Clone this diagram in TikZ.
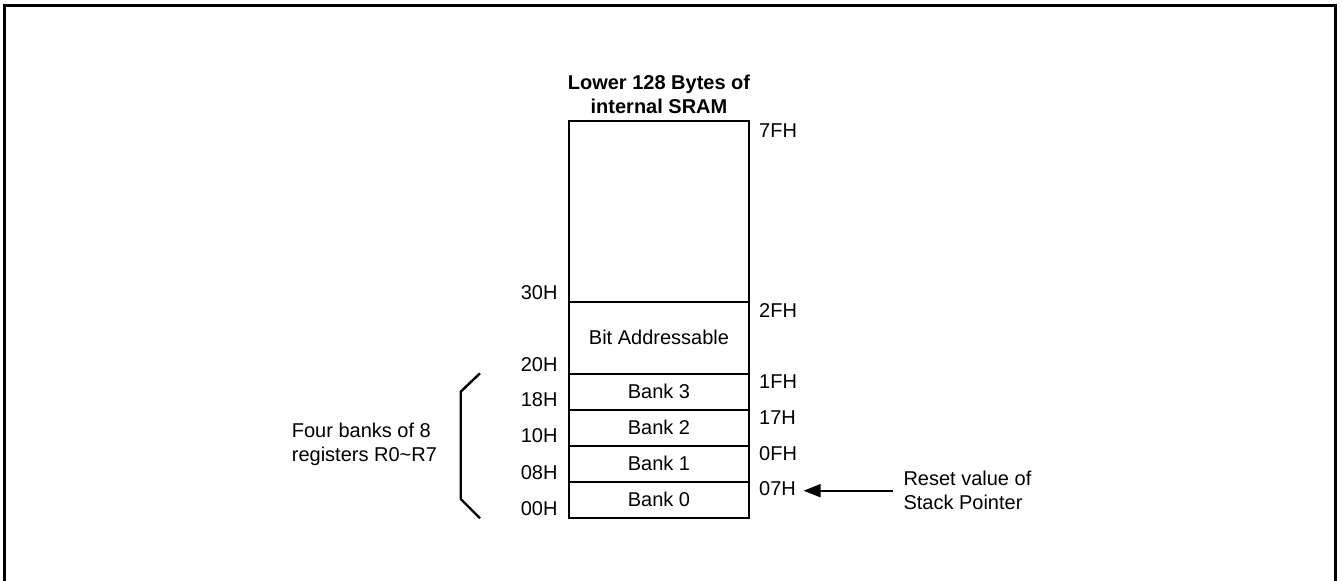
\documentclass[tikz,border=0pt]{standalone}
\usepackage{fontspec}
\setmainfont{Liberation Sans}
\usetikzlibrary{arrows.meta}
\tikzset{
  region/.style={draw, line width=2pt, minimum width=180pt, inner sep=0pt, outer sep=0pt, font=\fontsize{20}{24}\selectfont},
  addr/.style={inner sep=0pt, font=\fontsize{20}{24}\selectfont},
  note/.style={inner sep=0pt, align=left, font=\fontsize{20}{24}\selectfont},
  frame/.style={line width=3.2pt},
}
\begin{document}
\begin{tikzpicture}[x=1pt,y=-1pt]
\useasboundingbox (0,0) rectangle (1342,581);
\draw[frame] (4.3,590) -- (4.3,5.3) -- (1335.3,5.3) -- (1335.3,590);
% title
\node[inner sep=0pt, align=center, font=\fontsize{20}{23.5}\selectfont\bfseries] (title) at (659,94.5) {Lower 128 Bytes of\\internal SRAM};
% memory regions
\node[region, minimum height=180.2pt] (upper) at (659,211.4) {};
\node[region, minimum height=72.2pt] (bit) at (659,337.6) {Bit Addressable};
\node[region, minimum height=36pt] (b3) at (659,391.7) {Bank 3};
\node[region, minimum height=36pt] (b2) at (659,427.7) {Bank 2};
\node[region, minimum height=36pt] (b1) at (659,463.7) {Bank 1};
\node[region, minimum height=36pt] (b0) at (659,499.7) {Bank 0};
% left addresses
\node[addr, anchor=east] (l30) at (557.7,293) {30H};
\node[addr, anchor=east] (l20) at (557.7,365) {20H};
\node[addr, anchor=east] (l18) at (557.7,400) {18H};
\node[addr, anchor=east] (l10) at (557.7,436) {10H};
\node[addr, anchor=east] (l08) at (557.7,472.7) {08H};
\node[addr, anchor=east] (l00) at (557.7,509) {00H};
% right addresses
\node[addr, anchor=west] (r7f) at (759,130.7) {7FH};
\node[addr, anchor=west] (r2f) at (759,310.7) {2FH};
\node[addr, anchor=west] (r1f) at (759,381.7) {1FH};
\node[addr, anchor=west] (r17) at (759,417.7) {17H};
\node[addr, anchor=west] (r0f) at (759,453.3) {0FH};
\node[addr, anchor=west] (r07) at (759,489) {07H};
% brace
\coordinate (bt) at (480,373.3);
\coordinate (bb) at (480,518.3);
\draw[line width=2.4pt] (bt) -- (460.7,391.7) -- (460.7,499) -- (bb);
\node[note, anchor=west] (banks) at (291.7,444.7) {Four banks of 8\\registers R0\textasciitilde R7};
% reset note
\node[note, anchor=west] (reset) at (903.3,490.7) {Reset value of\\Stack Pointer};
\draw[line width=2pt, -{Triangle[length=17pt,width=13pt]}, shorten <=10pt, shorten >=7.5pt] (reset.west) -- (reset.west -| r07.east);
\end{tikzpicture}
\end{document}
